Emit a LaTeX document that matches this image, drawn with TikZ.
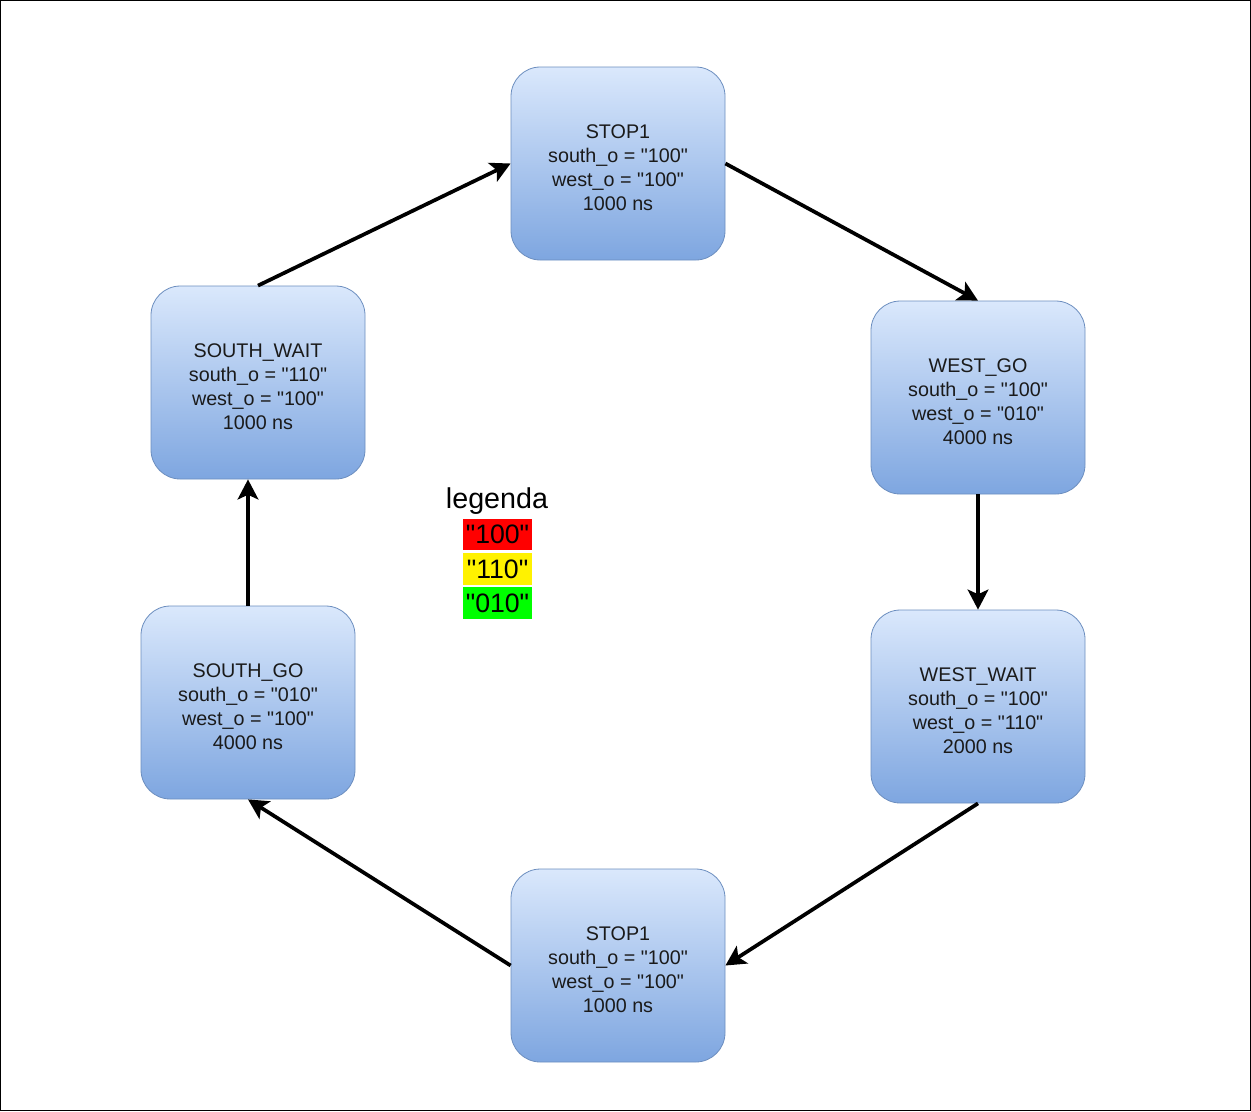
\documentclass[tikz,border=0pt]{standalone}
\usepackage{fontspec}
\setmainfont{Liberation Sans}[Ligatures=TeXOff]
\usetikzlibrary{arrows.meta}
\definecolor{boxtop}{HTML}{DAE8FC}
\definecolor{boxbot}{HTML}{7EA6E0}
\definecolor{boxline}{HTML}{6C8EBF}
\definecolor{txt}{HTML}{1A1A1A}
\newcommand\stlines[4]{\vbox{\vskip9pt\hbox{\begin{tabular}{@{}c@{}}#1\\#2\\#3\\#4\end{tabular}}}}
\begin{document}
\begin{tikzpicture}[x=0.75pt,y=-0.75pt,
  state/.style={draw=boxline, line width=0.6pt, rounded corners=22pt,
    top color=boxtop, bottom color=boxbot, minimum width=160.5pt, minimum height=144.75pt,
    align=center, font=\fontsize{14.8pt}{18pt}\selectfont, text=txt, inner sep=0pt},
  conn/.style={line width=2.8pt, -{Stealth[length=15pt,width=15.5pt,inset=3.5pt]}},
  legbox/.style={minimum width=51.75pt, minimum height=23.5pt, inner sep=0pt,
    font=\fontsize{20pt}{22pt}\selectfont}]
\useasboundingbox (0,0) rectangle (1251,1111);
\draw[line width=0.75pt] (0.5,0.5) rectangle (1250.5,1110.5);

\node[state] (st1) at (618,163.5) {\stlines{STOP1}{south\_o = "100"}{west\_o = "100"}{1000 ns}};
\node[state] (wg) at (978,397.5) {\stlines{WEST\_GO}{south\_o = "100"}{west\_o = "010"}{4000 ns}};
\node[state] (ww) at (978,706.5) {\stlines{WEST\_WAIT}{south\_o = "100"}{west\_o = "110"}{2000 ns}};
\node[state] (st2) at (618,965.5) {\stlines{STOP1}{south\_o = "100"}{west\_o = "100"}{1000 ns}};
\node[state] (sg) at (248,702.5) {\stlines{SOUTH\_GO}{south\_o = "010"}{west\_o = "100"}{4000 ns}};
\node[state] (sw) at (258,382.5) {\stlines{SOUTH\_WAIT}{south\_o = "110"}{west\_o = "100"}{1000 ns}};

\node[font=\fontsize{21.5pt}{22pt}\selectfont, inner sep=0pt] (leg) at (497,501) {legenda};
\node[legbox, fill=red] (l1) at (497.5,534.5) {"100"};
\node[legbox, fill=yellow] (l2) at (497.5,569) {"110"};
\node[legbox, fill=green] (l3) at (497.5,603) {"010"};

\draw[conn] (sw.north) -- (st1.west);
\draw[conn] (st1.east) -- (wg.north);
\draw[conn] (wg.south) -- (ww.north);
\draw[conn] (ww.south) -- (st2.east);
\draw[conn] (st2.west) -- (sg.south);
\draw[conn] (sg.north) -- (sg.north |- sw.south);
\end{tikzpicture}
\end{document}
